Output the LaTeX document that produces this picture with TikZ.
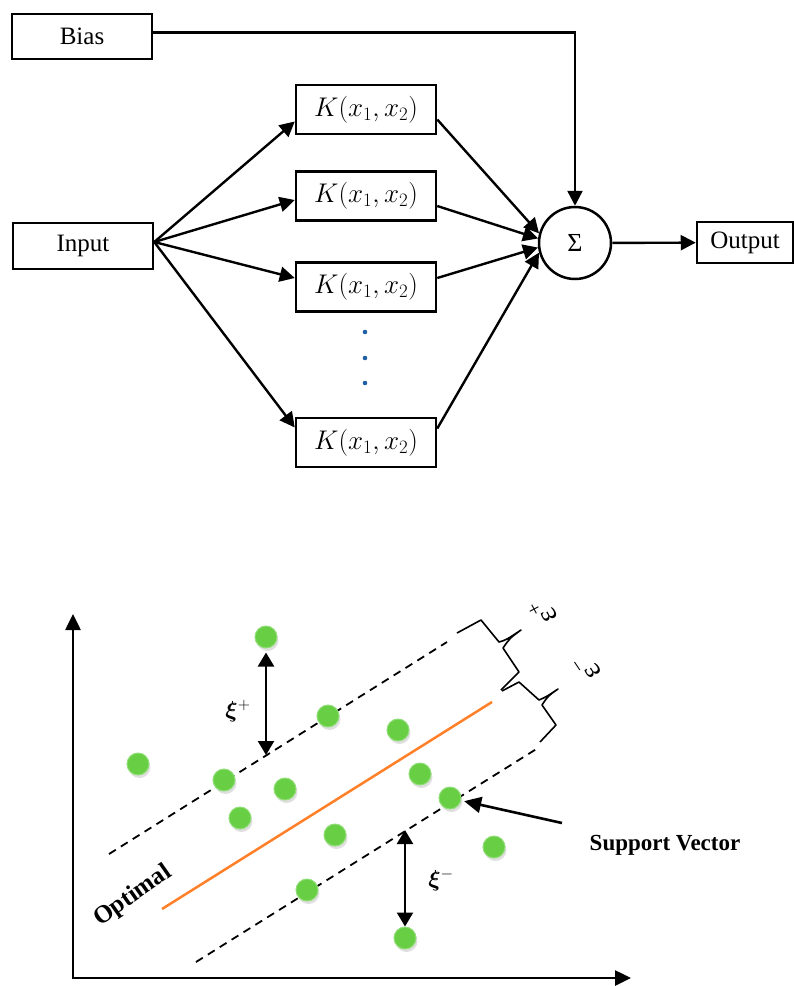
\RequirePackage{fix-cm}
\documentclass[tikz,border=0pt]{standalone}
\usepackage{amsmath,amssymb,bm}
\usepackage{fontspec}
\setmainfont{Liberation Serif}
\usetikzlibrary{arrows.meta,shadows}
\definecolor{ptgreen}{RGB}{104,206,68}
\definecolor{ptrim}{RGB}{145,222,120}
\definecolor{lineorange}{RGB}{255,128,40}
\definecolor{dotblue}{RGB}{30,95,165}
\tikzset{
  box/.style={draw,line width=2.5pt,inner sep=0pt,font=\fontsize{25}{30}\selectfont},
  kbox/.style={box,minimum width=140pt,minimum height=49pt,font=\fontsize{27}{32}\selectfont},
  link/.style={line width=2.4pt,-{Triangle[length=15pt,width=15pt]}},
  gap/.style={line width=2.4pt,{Triangle[length=14pt,width=16pt]}-{Triangle[length=14pt,width=16pt]}},
  pt/.style={circle,fill=ptgreen,draw=ptrim,line width=1pt,minimum size=22pt,inner sep=0pt,
    drop shadow={shadow xshift=1.5pt,shadow yshift=-3pt,opacity=0.25}},
  margin/.style={line width=1.8pt,dash pattern=on 8pt off 6pt},
  boldlabel/.style={font=\fontsize{23}{27}\selectfont\bfseries},
  epslabel/.style={font=\fontsize{30}{34}\selectfont,inner sep=0pt}
}
\begin{document}
\begin{tikzpicture}[line join=miter,x=1pt,y=-1pt]
\useasboundingbox (0,0) rectangle (794,986);
\node[box,minimum width=140pt,minimum height=45pt] (bias) at (82,36.5) {Bias};
\node[box,minimum width=140pt,minimum height=46pt] (input) at (83,246) {Input};
\node[kbox] (k1) at (366,109.5) {$K(x_1,x_2)$};
\node[kbox] (k2) at (366,196) {$K(x_1,x_2)$};
\node[kbox] (k3) at (366,287) {$K(x_1,x_2)$};
\node[kbox] (k4) at (366,442.5) {$K(x_1,x_2)$};
\node[circle,draw,line width=2.5pt,minimum size=72pt,inner sep=0pt,font=\fontsize{26}{30}\selectfont] (sum) at (575,243) {Σ};
\node[box,minimum width=96pt,minimum height=41pt] (output) at (745,242.5) {Output};
\foreach \py in {332,358,383}
  \fill[dotblue] (365,\py) circle (2.3pt);
\draw[link] ([yshift=4pt]bias.east) -| (sum.north);
\draw[link] ([yshift=4pt]input.east) -- ([yshift=-12pt]k1.west);
\draw[link] ([yshift=4pt]input.east) -- ([yshift=-4pt]k2.west);
\draw[link] ([yshift=4pt]input.east) -- ([yshift=9pt]k3.west);
\draw[link] ([yshift=4pt]input.east) -- ([yshift=15pt]k4.west);
\draw[link] ([yshift=-10pt]k1.east) -- (sum.165);
\draw[link] ([yshift=-10pt]k2.east) -- (sum.173);
\draw[link] ([yshift=9pt]k3.east) -- (sum.187);
\draw[link] ([yshift=14pt]k4.east) -- (sum.195);
\draw[link] (sum) -- (output);

\draw[line width=2.6pt,-{Triangle[length=16pt,width=15pt]}] (73,979) -- (73,614);
\draw[line width=2.6pt,-{Triangle[length=16pt,width=15pt]}] (72,978) -- (631,978);
\draw[margin] (109,854) -- (447,642);
\draw[margin] (196,962) -- (538,748);
\draw[line width=2.5pt,lineorange] (162,909) -- (492,702);
\draw[line width=1.6pt,line join=round] (457,633) -- (481,620) -- (499,642) .. controls (506,640) .. (521,630)
  .. controls (510,638) .. (503,648) -- (519,672) -- (501,690);
\draw[line width=1.6pt,line join=round] (502,691) -- (519,682) -- (539,700) .. controls (546,697) .. (558,689)
  .. controls (548,696) .. (542,705) -- (556,725) -- (540,742);
\node[epslabel,rotate=118] (epsup) at (543,612) {ε\textsuperscript{+}};
\node[epslabel,rotate=124] (epsdown) at (588,667) {ε\textsuperscript{−}};
\foreach \px/\py [count=\i] in {266/637,138/764,224/780,328/716,398/730,285/789,420/774,240/818,335/835,450/798,494/847,307/890,405/938}
  \node[pt] (p\i) at (\px,\py) {};
\coordinate (xiup) at (266,755);
\coordinate (xidown) at (405,830);
\coordinate (svtail) at (562,823);
\draw[gap,shorten <=4pt] (p1) -- (xiup);
\draw[gap] (xidown) -- (p13);
\draw[line width=2.6pt,-{Triangle[length=17pt,width=16pt]},shorten >=3pt] (svtail) -- (p10);
\node[font=\fontsize{23}{27}\selectfont] (xiplus) at (238,711) {$\bm{\xi}^{+}$};
\node[font=\fontsize{23}{27}\selectfont] (ximinus) at (441,880) {$\bm{\xi}^{-}$};
\node[boldlabel] (sv) at (665,845) {Support Vector};
\node[boldlabel,font=\fontsize{25}{29}\selectfont\bfseries,rotate=35] (optimal) at (133,896) {Optimal};
\end{tikzpicture}
\end{document}
